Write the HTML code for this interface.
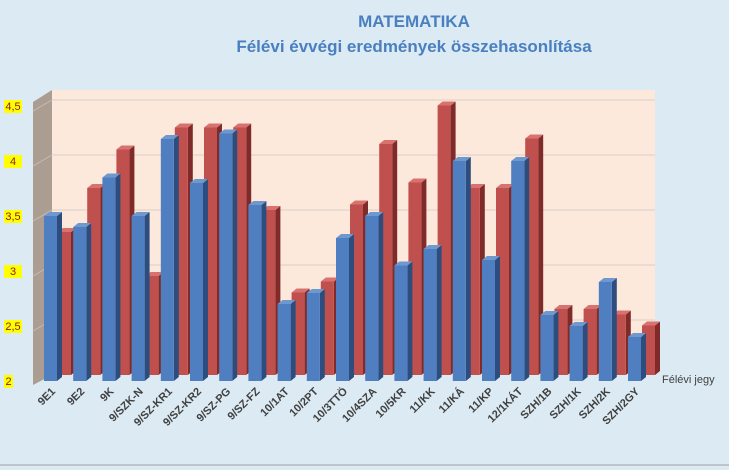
<!DOCTYPE html>
<html><head><meta charset="utf-8"><style>
body{margin:0;background:#dbeaf3;}
svg{display:block;font-family:"Liberation Sans",sans-serif;}
</style></head><body>
<svg id="c" width="729" height="470">
<rect x="0" y="0" width="729" height="470" fill="#dbeaf3"/>
<line x1="0" y1="465" x2="729" y2="465" stroke="#a0a0a0"/>
<text x="414" y="27" text-anchor="middle" font-size="17" font-weight="bold" fill="#4a7fc0">MATEMATIKA</text>
<text x="414" y="52" text-anchor="middle" font-size="17" font-weight="bold" fill="#4a7fc0">Félévi évvégi eredmények összehasonlítása</text>
<polygon points="52,90 655,90 655,375 52,375" fill="#fde9dc"/>
<polygon points="33,102 52,90 52,375 33,385" fill="#ab9d92"/>
<g id="grid"></g><g id="bars"></g><g id="labels"></g>
<text x="662" y="383" font-size="11" fill="#404040">Félévi jegy</text>
</svg>
<script>
const categories=["9E1","9E2","9K","9/SZK-N","9/SZ-KR1","9/SZ-KR2","9/SZ-PG","9/SZ-FZ","10/1AT","10/2PT","10/3TTÖ","10/4SZA","10/5KR","11/KK","11/KÁ","11/KP","12/1KÁT","SZH/1B","SZH/1K","SZH/2K","SZH/2GY"];
const felevi=[3.5,3.4,3.85,3.5,4.2,3.8,4.25,3.6,2.7,2.8,3.3,3.5,3.05,3.2,4.0,3.1,4.0,2.6,2.5,2.9,2.4];
const evvegi=[3.3,3.7,4.05,2.9,4.25,4.25,4.25,3.5,2.75,2.85,3.55,4.1,3.75,4.45,3.7,3.7,4.15,2.6,2.6,2.55,2.45];
const yTicks=[2,2.5,3,3.5,4,4.5];
const yTickLabels=["2","2,5","3","3,5","4","4,5"];
const NS="http://www.w3.org/2000/svg";
function yFront(v){return 381-(v-2)*110;}
function yBack(v){return 375-(v-2)*110;}
function xCat(i){return 44+i*29.2;}
function mk(t,a,p){const e=document.createElementNS(NS,t);for(const k in a)e.setAttribute(k,a[k]);p.appendChild(e);return e;}
const g=document.getElementById('grid'),b=document.getElementById('bars'),l=document.getElementById('labels');
yTicks.forEach((v,i)=>{
 const y=yBack(v);
 if(i>0){const ln=mk('line',{x1:52,y1:y,x2:655,y2:y,stroke:'#d8cfc8'},g);
 
 
 const ln2=mk('line',{x1:33,y1:y+11,x2:52,y2:y,stroke:'#c8bcb2'},g);
 
 }
 const yy=yFront(v)+4;
 const bg=mk('rect',{x:4,y:yy-10,width:i==0?9:18,height:13,fill:'#ffff00'},l);
 
 
 const t=mk('text',{x:i==0?8.5:13,y:yy,'text-anchor':'middle','font-size':11,fill:'#8b1a1a'},l);
 t.textContent=yTickLabels[i];
 
 
});
function bar(x,v,front,side,top,base,name){
 const w=13,d=5,y=(base===381?yFront(v):yBack(v));
 const s=mk('polygon',{points:`${x+w},${y} ${x+w+d},${y-4} ${x+w+d},${base-4} ${x+w},${base}`,fill:side},b);
 
 
 const tp=mk('polygon',{points:`${x},${y} ${x+d},${y-4} ${x+w+d},${y-4} ${x+w},${y}`,fill:top},b);
 
 
 const r=mk('rect',{x:x,y:y,width:w,height:base-y,fill:front},b);
 
 
}
categories.forEach((c,i)=>{
 const x=xCat(i);
 bar(x+14,evvegi[i],'#c0504d','#7f2b29','#d9726f',375,'bar-evvegi');
 bar(x,felevi[i],'#4f7fc0','#2c4d7e','#6f98cf',381,'bar-felevi');
 const t=mk('text',{x:x+12,y:392,'text-anchor':'end','font-size':11,'font-weight':'bold',fill:'#404040',transform:`rotate(-45 ${x+12} 392)`},l);
 t.textContent=c;
 
 
});
</script>
</body></html>
